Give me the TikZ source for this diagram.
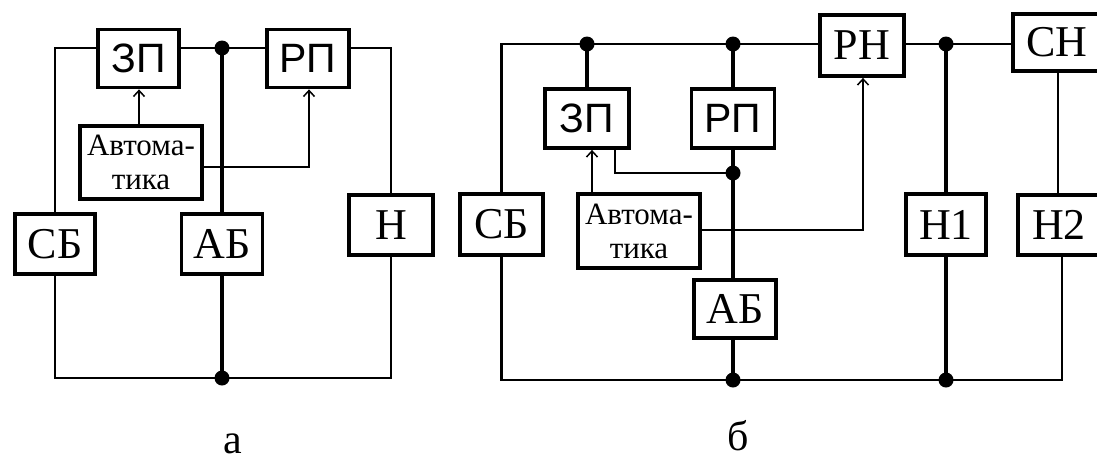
\documentclass[tikz,border=0pt]{standalone}
\usepackage{fontspec}
\setmainfont{Liberation Serif}
\newfontfamily\sansfnt{Liberation Sans}
\usetikzlibrary{arrows.meta}
\tikzset{
  blk/.style={draw, line width=3.8pt, inner sep=0pt, fill=white},
  lbl/.style={font=\fontsize{44}{44}\selectfont},
  slbl/.style={font=\sansfnt\fontsize{41}{44}\selectfont},
  auto/.style={font=\fontsize{31}{34}\selectfont, align=center},
  wire/.style={line width=2.3pt},
  bus/.style={line width=3.4pt},
  ctl/.style={line width=1.5pt},
  ctlarrow/.style={ctl, -{Straight Barb[length=6pt,width=11pt,line width=1.5pt]}},
  junction/.style={circle, fill=black, inner sep=0pt, minimum size=15pt}
}
\begin{document}
\begin{tikzpicture}[x=1pt,y=-1pt]
\useasboundingbox (0,0) rectangle (1097,464);
\clip (0,0) rectangle (1097,464);

% ---------- scheme (a) ----------
\coordinate (tA) at (0,48);
\coordinate (bA) at (0,378);
\node[blk, minimum width=81pt, minimum height=58pt, slbl] (zpA) at (138.5,58.5) {ЗП};
\node[blk, minimum width=82pt, minimum height=58pt, slbl] (rpA) at (308,58.5) {РП};
\node[blk, minimum width=80pt, minimum height=60pt, lbl] (sbA) at (55,244) {СБ};
\node[blk, minimum width=81pt, minimum height=60pt, lbl] (abA) at (222,244) {АБ};
\node[blk, minimum width=84pt, minimum height=60pt, lbl] (nA) at (391,225) {Н};
\coordinate (jtA) at (abA.north |- tA);
\coordinate (jbA) at (abA.south |- bA);

% power lines
\draw[wire] (sbA.north) |- (zpA.west |- tA);
\draw[wire] (zpA.east |- tA) -- (rpA.west |- tA);
\draw[wire] (rpA.east |- tA) -| (nA.north);
\draw[wire] (sbA.south) |- (jbA) -| (nA.south);
\draw[bus] (abA.south) -- (jbA);

% control
\node[blk, minimum width=122pt, minimum height=73pt, auto] (avA) at (141,162.5) {Автома-\\тика};
\draw[ctlarrow] (avA.north -| 139,0) -- (zpA.south -| 139,0);
\draw[ctlarrow] (avA.east |- 0,167) -| (rpA.south -| 309,0);
\draw[bus] (jtA) -- (abA.north);
\node[junction] (dtA) at (jtA) {};
\node[junction] (dbA) at (jbA) {};

\node[font=\fontsize{42}{42}\selectfont] (capA) at (233,444) {а};

% ---------- scheme (b) ----------
\coordinate (tB) at (0,44);
\coordinate (bB) at (0,380);
\node[blk, minimum width=83pt, minimum height=61pt, lbl] (sbB) at (501.5,224.5) {СБ};
\node[blk, minimum width=84pt, minimum height=59pt, slbl] (zpB) at (587,118.5) {ЗП};
\node[blk, minimum width=83pt, minimum height=59pt, slbl] (rpB) at (733,118.5) {РП};
\node[blk, minimum width=82pt, minimum height=58pt, lbl] (abB) at (735,309) {АБ};
\node[blk, minimum width=84pt, minimum height=61pt, lbl] (rnB) at (862,45.5) {РН};
\node[blk, minimum width=88pt, minimum height=57pt, lbl] (cnB) at (1057,42.5) {СН};
\node[blk, minimum width=80pt, minimum height=61pt, lbl] (h1B) at (946,224.5) {Н1};
\node[blk, minimum width=82pt, minimum height=60pt, lbl] (h2B) at (1059,225) {Н2};

\coordinate (j1B) at (zpB.north |- tB);
\coordinate (j2B) at (rpB.north |- tB);
\coordinate (j3B) at (rpB.north |- 0,173);
\coordinate (j4B) at (h1B.north |- tB);
\coordinate (j5B) at (rpB.north |- bB);
\coordinate (j6B) at (h1B.south |- bB);

% power lines
\draw[wire] (sbB.north) |- (rnB.west |- tB);
\draw[wire] (rnB.east |- tB) -- (cnB.west |- tB);
\draw[bus] (j1B) -- (zpB.north);
\draw[bus] (j2B) -- (rpB.north);
\draw[bus] (abB.south -| rpB.south) -- (j5B);
\draw[wire] (zpB.south -| 615,0) |- (j3B);
\draw[bus] (j4B) -- (h1B.north);
\draw[bus] (h1B.south) -- (j6B);
\draw[wire] (cnB.south -| 1058,0) -- (h2B.north -| 1058,0);
\draw[wire] (sbB.south) |- (1062,380) -- (h2B.south -| 1062,0);

% control
\node[blk, minimum width=122pt, minimum height=74pt, auto] (avB) at (639,231) {Автома-\\тика};
\draw[ctlarrow] (avB.north -| 592,0) -- (zpB.south -| 592,0);
\draw[ctlarrow] (avB.east |- 0,230) -| (rnB.south -| 863,0);
\draw[bus] (rpB.south) -- (abB.north -| rpB.south);

\node[junction] (d1B) at (j1B) {};
\node[junction] (d2B) at (j2B) {};
\node[junction] (d3B) at (j3B) {};
\node[junction] (d4B) at (j4B) {};
\node[junction] (d5B) at (j5B) {};
\node[junction] (d6B) at (j6B) {};

\node[font=\fontsize{42}{42}\selectfont] (capB) at (738,436) {б};
\end{tikzpicture}
\end{document}
